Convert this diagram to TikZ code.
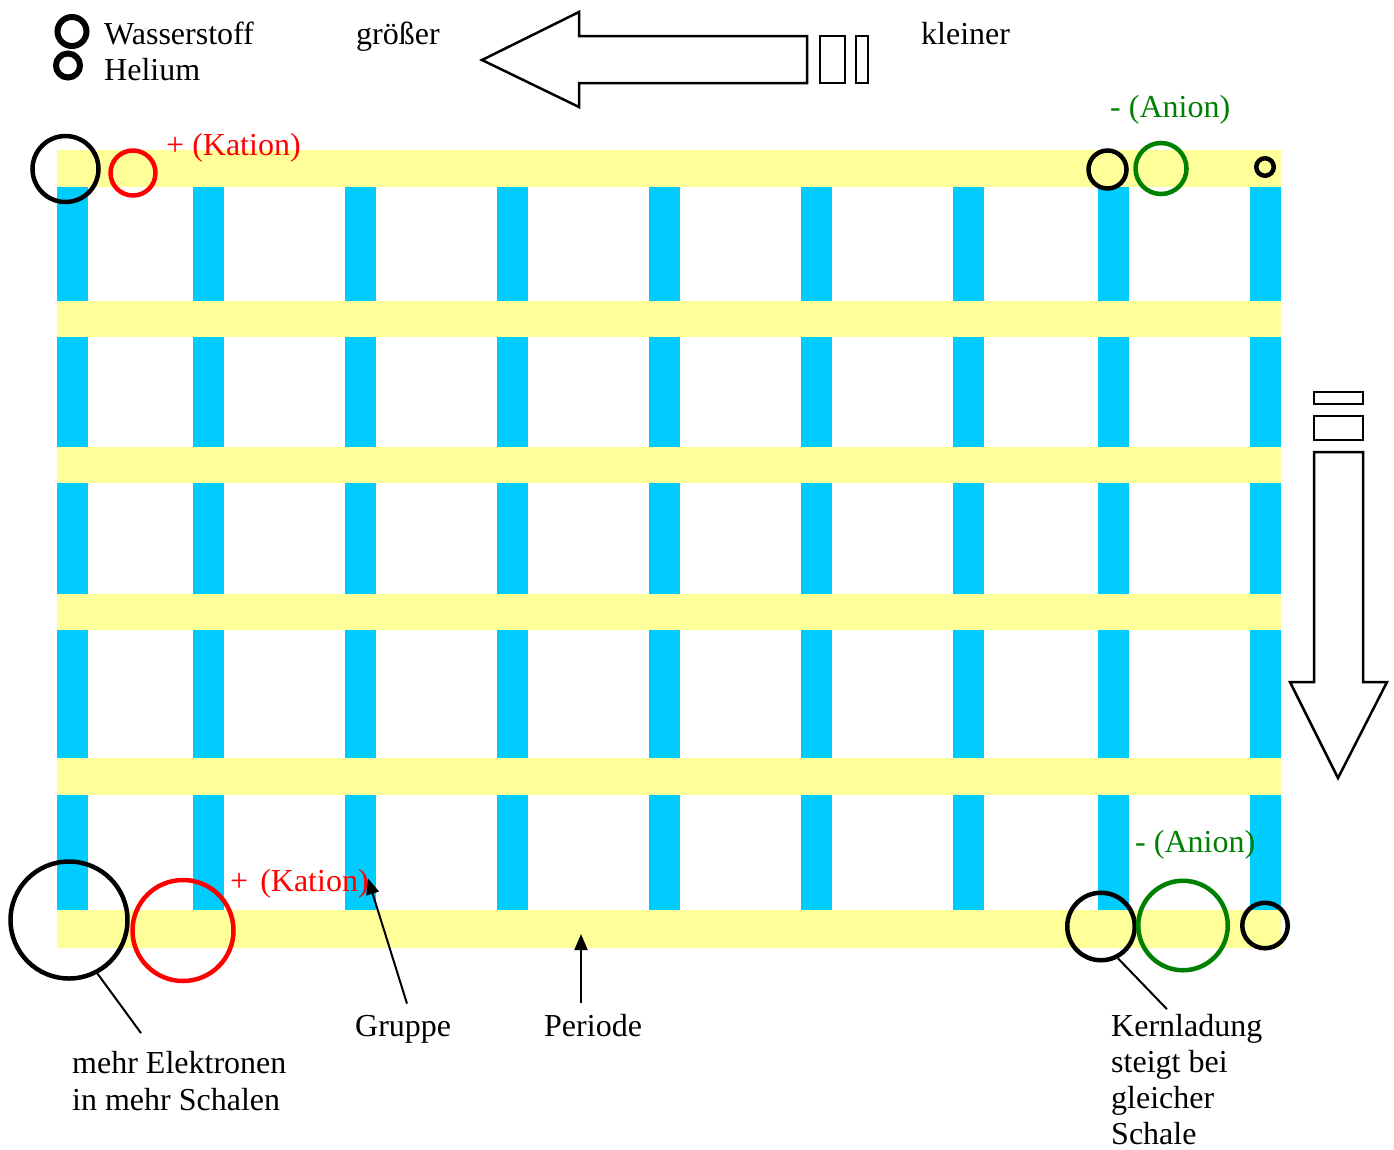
\documentclass[tikz,border=0pt]{standalone}
\usepackage{fontspec}
\setmainfont{Liberation Serif}
\usepackage{xcolor}
\definecolor{pblue}{HTML}{00CCFF}
\definecolor{pyellow}{HTML}{FFFF99}
\definecolor{pred}{HTML}{FF0000}
\definecolor{pgreen}{HTML}{008000}
\usetikzlibrary{arrows.meta,calc}

\begin{document}
\begin{tikzpicture}[x=1pt,y=-1pt,
  lab/.style={anchor=base west,inner sep=0pt,font=\fontsize{32}{36.5}\selectfont},
  txt/.style={lab,align=left},
  ring/.style={circle,draw,line width=4.5pt,inner sep=0pt,minimum size=#1},
  blk/.style={draw,line width=2.5pt,fill=white,line join=miter},
  ptr/.style={-{Triangle[length=16pt,width=13pt]},line width=2pt},
  lead/.style={line width=2pt}]
\useasboundingbox (0,0) rectangle (1394,1149);
\foreach \x in {57,193,345,497,649,801,953,1098,1250}
  \fill[pblue] (\x,187) rectangle ++(31,723);
\foreach \y/\h in {150/37,301/36,447/36,594/36,758/37,910/38}
  \fill[pyellow] (57,\y) rectangle ++(1224,\h);
\node[ring=29pt,line width=6pt] (legH) at (72,31.5) {};
\node[ring=24pt,line width=6pt] (legHe) at (68,65.5) {};
\node[lab] (wasser) at (104,44) {Wasserstoff};
\node[lab] (helium) at (104,80) {Helium};
\node[lab] (groesser) at (356,44) {größer};
\node[lab] (kleiner) at (921,44) {kleiner};
\draw[blk] (482,60) -- (579,12) -- (579,36) -- (807,36) -- (807,83) -- (579,83) -- (579,107) -- cycle;
\draw[blk] (820,36) rectangle (845,83);
\draw[blk] (856,36) rectangle (868,83);
\draw[blk] (1314,392) rectangle (1363,404);
\draw[blk] (1314,416) rectangle (1363,440);
\draw[blk] (1314,452) -- (1363,452) -- (1363,682) -- (1387,682) -- (1338,778) -- (1290,682) -- (1314,682) -- cycle;
\node[ring=66pt] (tlH) at (65.5,169) {};
\node[ring=45pt,draw=pred] (tlK) at (133,173) {};
\node[ring=38pt] (trH) at (1107.5,169.5) {};
\node[ring=51pt,draw=pgreen] (trA) at (1161,168.5) {};
\node[ring=17.5pt] (trHe) at (1265,167) {};
\node[ring=117pt] (blH) at (69,920) {};
\node[ring=101pt,draw=pred] (blK) at (183,930.5) {};
\node[ring=67.5pt] (brH) at (1101,926.5) {};
\node[ring=89.5pt,draw=pgreen] (brA) at (1183,925.5) {};
\node[ring=45.5pt] (brHe) at (1265,925.5) {};
\node[lab,pred] (katA) at (166,155) {+ (Kation)};
\node[lab,pgreen] (aniA) at (1110,117) {- (Anion)};
\node[lab,pred] (katB) at (230,891) {+\hspace{4pt} (Kation)};
\node[lab,pgreen] (aniB) at (1135,852) {- (Anion)};
\node[lab] (gruppe) at (355,1036) {Gruppe};
\node[lab] (periode) at (544,1036) {Periode};
\node[txt] (mehr) at (72,1110) {mehr Elektronen\\in mehr Schalen};
\node[txt,font=\fontsize{32}{35.8}\selectfont] (kern) at (1111,1144) {Kernladung\\steigt bei\\gleicher\\Schale};
\coordinate (perTip) at (581,934);
\draw[ptr] ([xshift=52pt,yshift=11pt]gruppe.north west) -- ([xshift=-1pt,yshift=5pt]katB.east);
\draw[ptr] ([xshift=37pt,yshift=11pt]periode.north west) -- (perTip);
\draw[lead] (blH.-62) -- ([xshift=69pt,yshift=18pt]mehr.north west);
\draw[lead] (brH.-62) -- ([xshift=56pt,yshift=5pt]kern.north west);
\end{tikzpicture}
\end{document}
